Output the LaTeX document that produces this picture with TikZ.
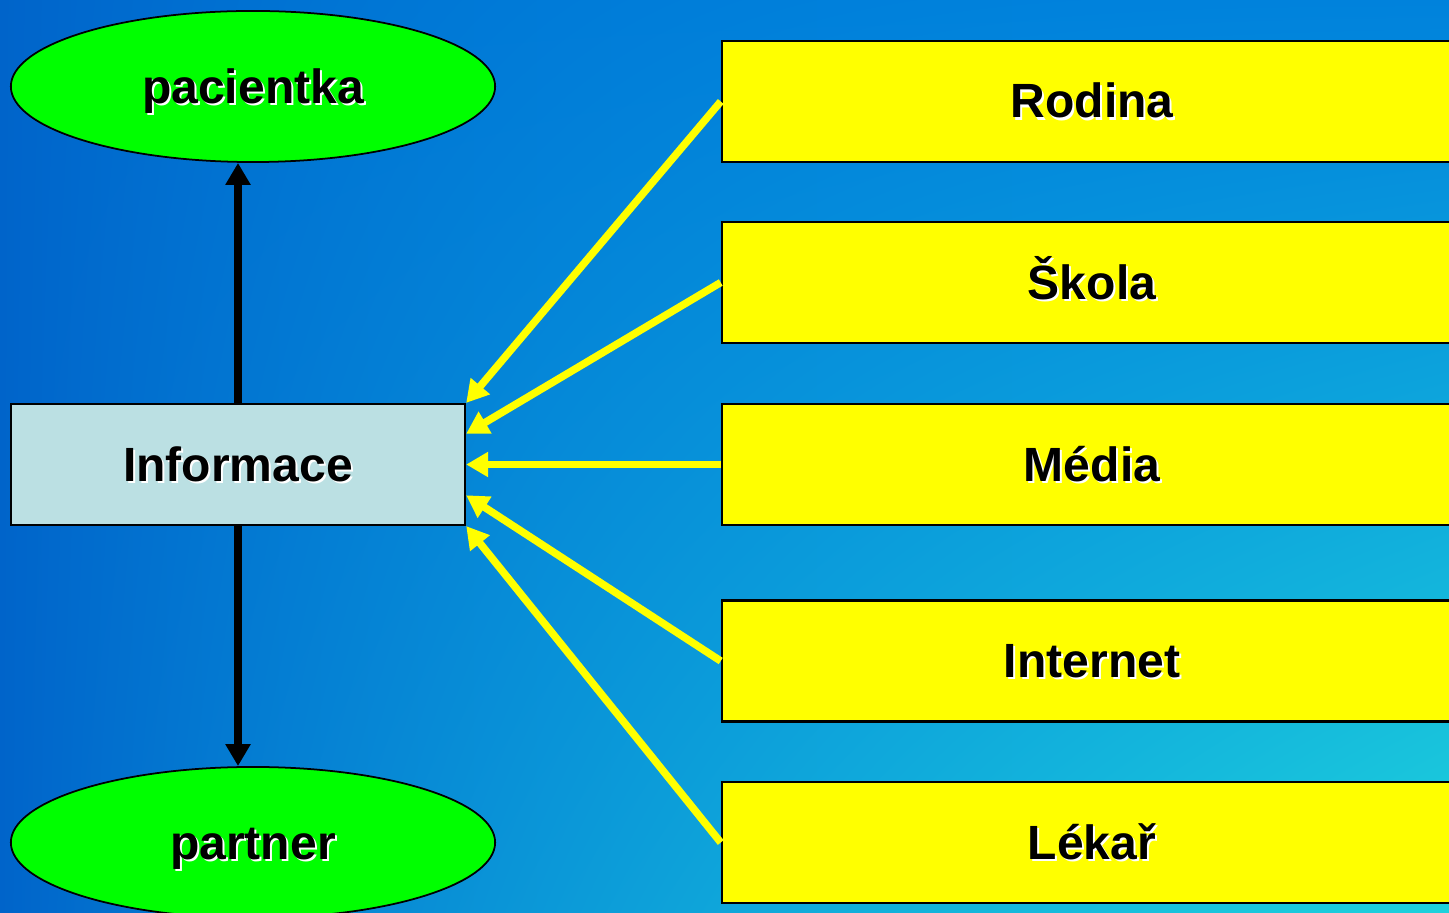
\documentclass[tikz,border=0pt]{standalone}
\usepackage{fontspec}
\setmainfont{Liberation Sans}
\usetikzlibrary{shapes.geometric,arrows.meta,calc}

\definecolor{infofill}{RGB}{187,224,227}
\definecolor{srcyellow}{RGB}{255,255,0}
\definecolor{goalgreen}{RGB}{0,255,0}

\newcommand\slidewidth{1449}
\newcommand\slideheight{913}
\newcommand\shadowed[1]{\makebox[0pt][l]{\hspace{0.02cm}\raisebox{-0.02cm}{\color{white}#1}}#1}

% background, 14.49cm x 9.13cm = 410.74bp x 258.80bp
\pgfdeclarefunctionalshading{slidebg}{\pgfpoint{0bp}{0bp}}{\pgfpoint{410.74bp}{258.80bp}}{}{
  258.80 exch sub 258.80 div
  exch 410.74 div
  2 copy mul
  3 1 roll
  exch pop
  1 exch sub dup dup mul mul 1 exch sub
  2 copy
  30 mul exch 80 mul add 100 add 255 div
  3 1 roll
  18 mul 202 add 255 div
  exch 30 mul 255 div
  3 1 roll
}

\tikzset{
  slidetext/.style={font=\bfseries\fontsize{13.66}{16}\selectfont, text height=0.43cm, text depth=0.1cm},
  goal/.style={ellipse, draw, line width=0.5pt, fill=goalgreen, minimum width=4.84cm, minimum height=1.51cm, inner sep=0pt, slidetext},
  infobox/.style={rectangle, draw, line width=0.6pt, fill=infofill, minimum width=4.54cm, minimum height=1.21cm, inner sep=0pt, slidetext},
  sourcebox/.style={rectangle, draw, line width=0.6pt, fill=srcyellow, minimum width=7.4cm, minimum height=1.21cm, inner sep=0pt, slidetext},
  flow/.style={line width=0.075cm, -{Triangle[length=0.22cm,width=0.24cm]}},
}

\begin{document}
\begin{tikzpicture}[x=0.01cm, y=-0.01cm]
  \useasboundingbox (0,0) rectangle (\slidewidth,\slideheight);
  \clip (0,0) rectangle (\slidewidth,\slideheight);
  \node[inner sep=0pt, outer sep=0pt, anchor=north west] (bg) at (0,0) {\pgfuseshading{slidebg}};

  \node[goal] (pacientka) at (253,86.5) {\shadowed{pacientka}};
  \node[goal] (partner) at (253,842.5) {\shadowed{partner}};
  \node[infobox] (info) at (238,464.5) {\shadowed{Informace}};

  \node[sourcebox] (rodina) at (1092,101.5) {\shadowed{Rodina}};
  \node[sourcebox] (skola) at (1092,282.5) {\shadowed{Škola}};
  \node[sourcebox] (media) at (1092,464.5) {\shadowed{Média}};
  \node[sourcebox] (internet) at (1092,661) {\shadowed{Internet}};
  \node[sourcebox] (lekar) at (1092,842.5) {\shadowed{Lékař}};

  \draw[flow] (info.north) -- (info.north |- pacientka.south);
  \draw[flow] (info.south) -- (info.south |- partner.north);

  \draw[flow, srcyellow] (rodina.west) -- (info.north east);
  \draw[flow, srcyellow] (skola.west) -- ($(info.north east)!.25!(info.south east)$);
  \draw[flow, srcyellow] (media.west) -- (info.east);
  \draw[flow, srcyellow] (internet.west) -- ($(info.north east)!.75!(info.south east)$);
  \draw[flow, srcyellow] (lekar.west) -- (info.south east);
\end{tikzpicture}
\end{document}
